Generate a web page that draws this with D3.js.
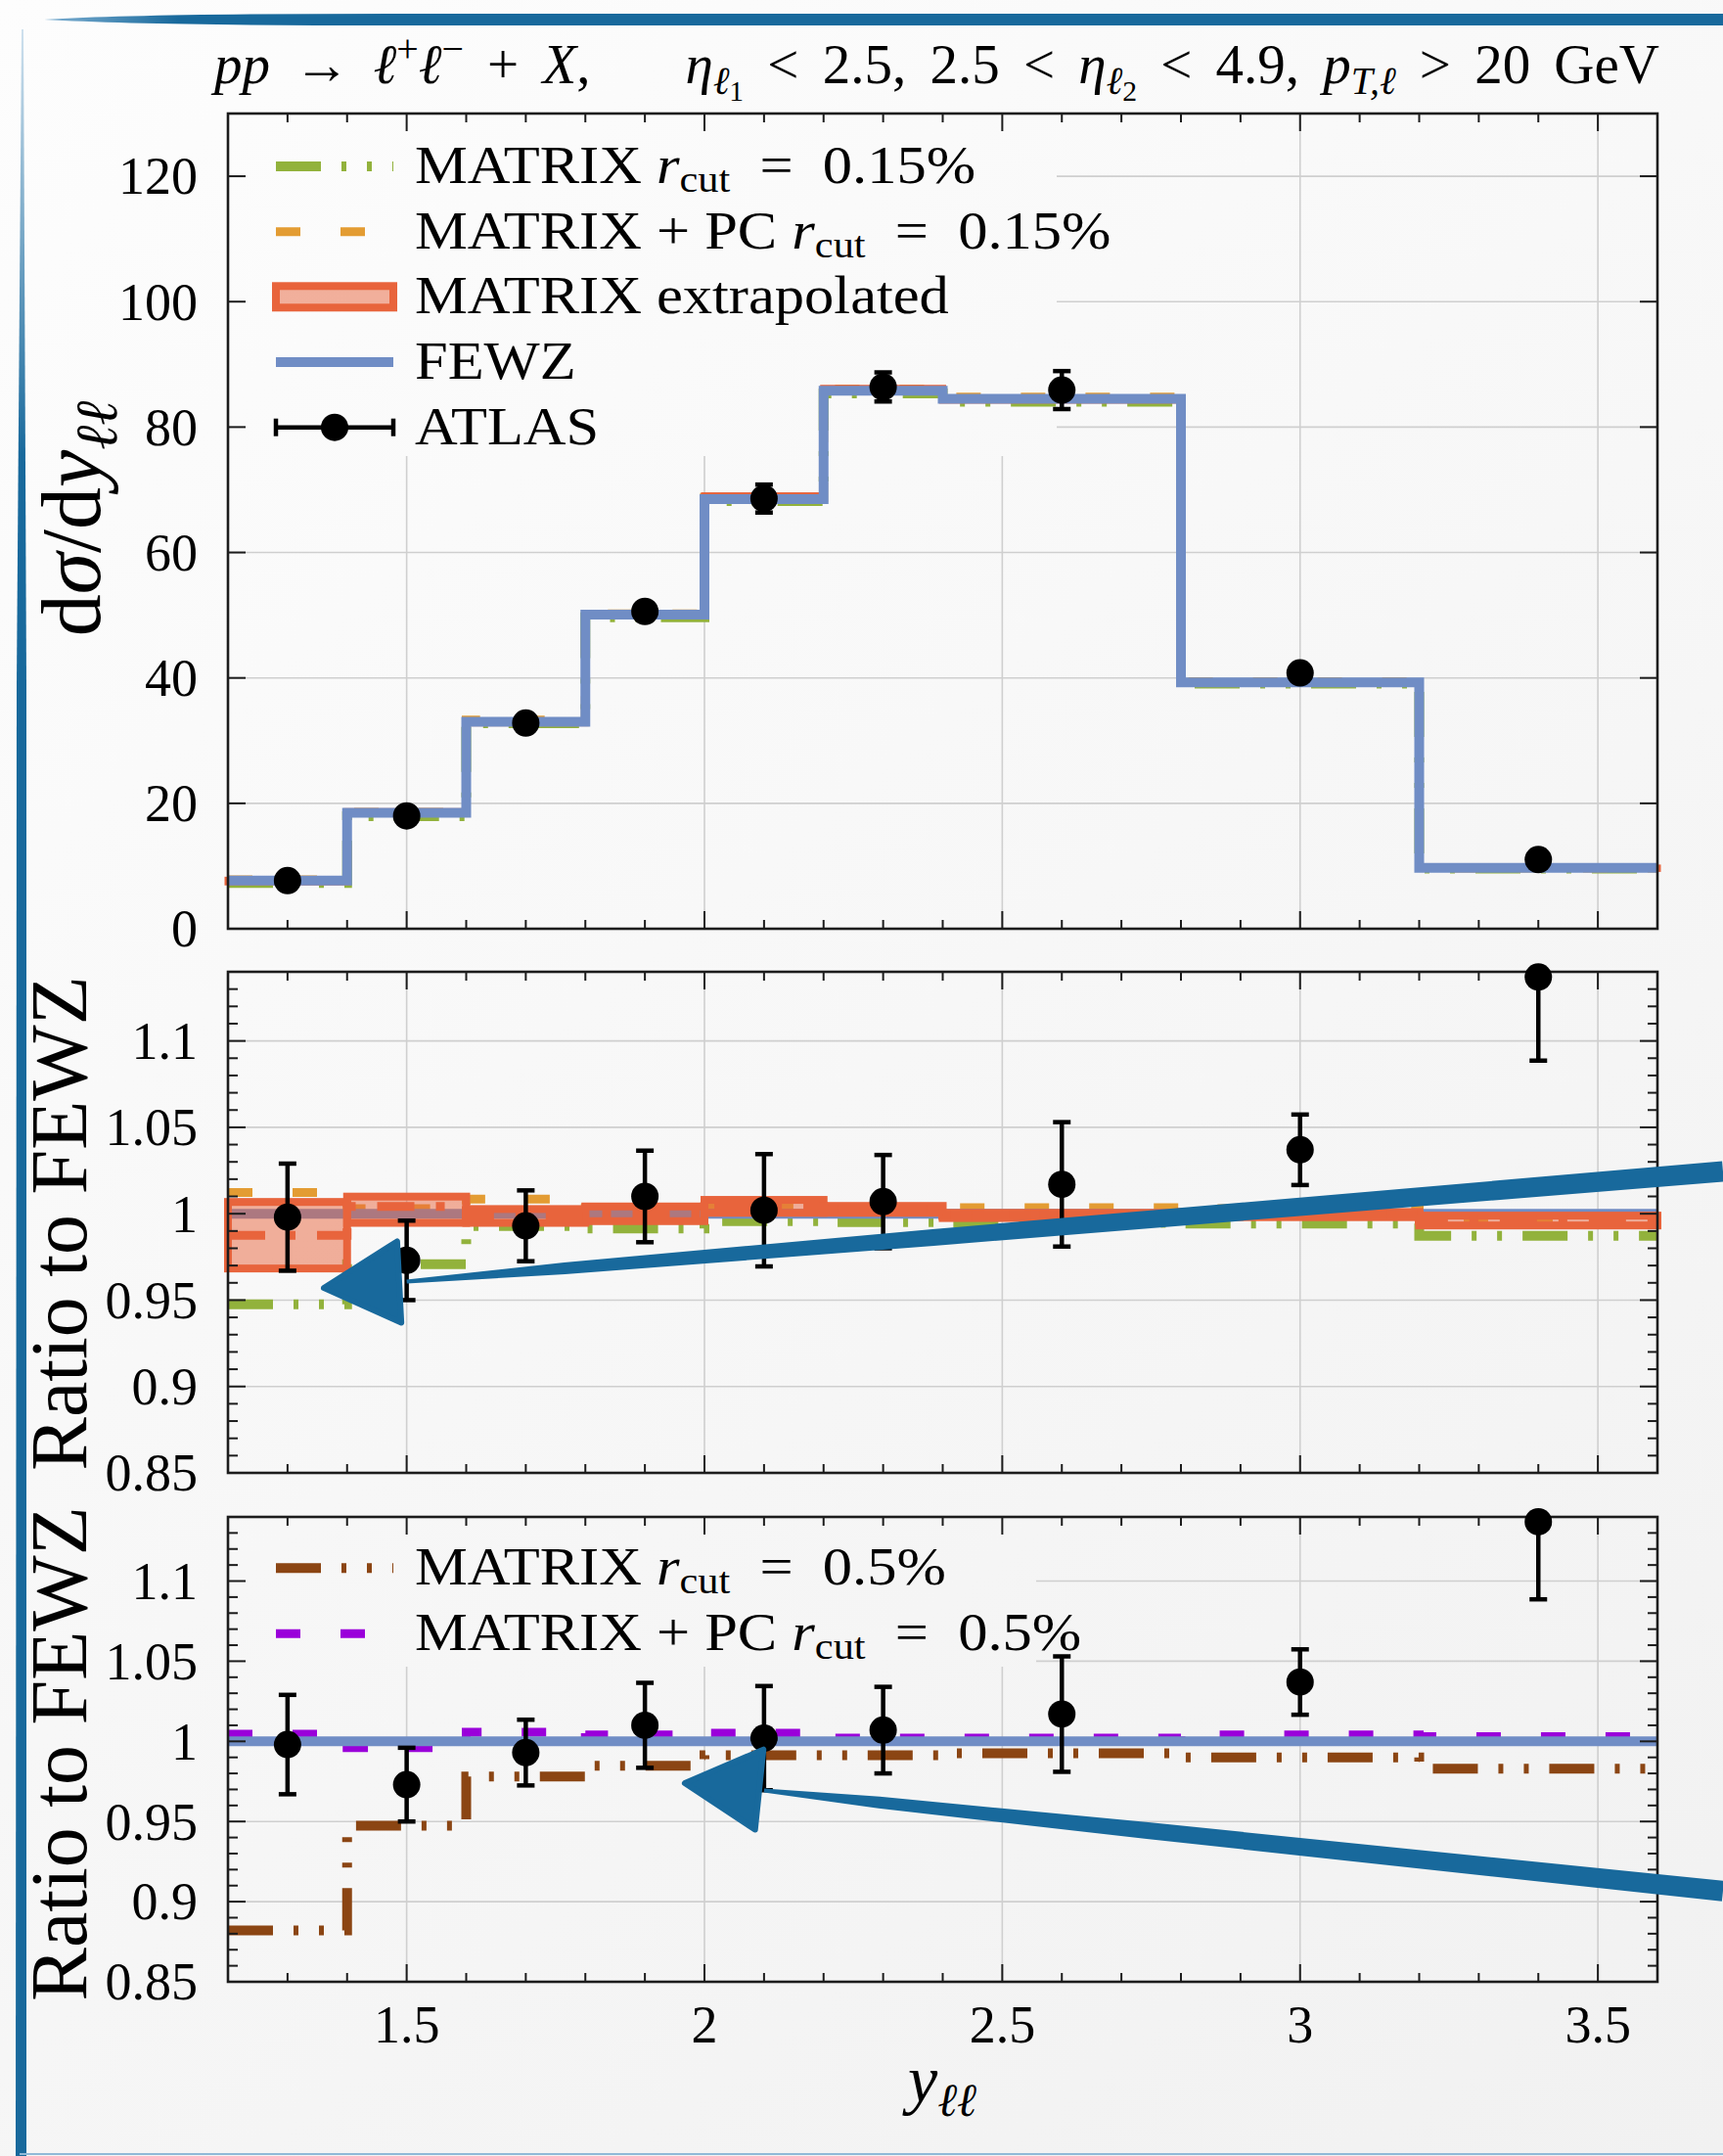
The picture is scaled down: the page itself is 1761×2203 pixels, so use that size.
<!DOCTYPE html>
<html>
<head>
<meta charset="utf-8">
<script src="https://cdn.jsdelivr.net/npm/d3@7"></script>
<style>
  html, body { margin: 0; padding: 0; background: #f6f6f6; }
  svg { display: block; }
  text { font-family: "Liberation Serif", "Times New Roman", serif; fill: #000; white-space: pre; }
</style>
</head>
<body>
<svg id="chart" width="1761" height="2203"></svg>
<script>
// ---- data ----
const binEdges = [1.2, 1.4, 1.6, 1.8, 2.0, 2.2, 2.4, 2.8, 3.2, 3.6];

// top panel, d sigma / d y_ll
const fewz        = [7.7, 18.5, 33.0, 50.1, 68.5, 85.8, 84.5, 39.3, 9.7];
const matrix015   = [7.30, 17.96, 32.77, 49.67, 68.21, 85.38, 84.05, 39.08, 9.58];
const matrixPC015 = [7.79, 18.56, 33.28, 50.20, 68.77, 86.06, 84.80, 39.42, 9.66];
const extrapLo    = [7.46, 18.40, 32.83, 49.88, 68.53, 85.84, 84.29, 39.22, 9.63];
const extrapHi    = [7.75, 18.68, 33.09, 50.31, 69.05, 86.19, 84.54, 39.34, 9.69];
const atlasX      = [1.3, 1.5, 1.7, 1.9, 2.1, 2.3, 2.6, 3.0, 3.4];
const atlasVal    = [7.68, 18.0, 32.8, 50.6, 68.6, 86.4, 85.9, 40.8, 11.03];
const atlasErr    = [0.24, 0.43, 0.68, 1.33, 2.23, 2.32, 3.03, 0.80, 0.47];

// ratio panels
const rFewz        = [1, 1, 1, 1, 1, 1, 1, 1, 1];
const rMatrix015   = [0.9476, 0.9708, 0.9929, 0.9915, 0.9957, 0.9951, 0.9947, 0.9943, 0.9872];
const rMatrixPC015 = [1.0123, 1.003, 1.0085, 1.002, 1.004, 1.003, 1.0035, 1.003, 0.996];
const rExtrapLo    = [0.9683, 0.9947, 0.9947, 0.9957, 1.0005, 1.0005, 0.9975, 0.998, 0.9932];
const rExtrapHi    = [1.0068, 1.0099, 1.0027, 1.0042, 1.008, 1.0045, 1.0005, 1.001, 0.9989];
const rExtrapMid   = [0.9875, 1.0042, 0.9987, 1.0, 1.0042, 1.0025, 0.999, 0.9995, 0.996];
const rAtlas       = [0.998, 0.973, 0.993, 1.010, 1.002, 1.007, 1.017, 1.037, 1.137];
const rAtlasErr    = [0.031, 0.023, 0.0205, 0.0265, 0.0325, 0.027, 0.036, 0.0204, 0.0484];
const rMatrix05    = [0.882, 0.9474, 0.978, 0.9847, 0.9914, 0.9914, 0.9925, 0.990, 0.983];
const rMatrixPC05  = [1.0045, 0.996, 1.0057, 1.004, 1.005, 1.002, 1.002, 1.004, 1.003];

const xTicks = [1.5, 2, 2.5, 3, 3.5];
const topTicks = [0, 20, 40, 60, 80, 100, 120];
const ratioTicks = [0.85, 0.9, 0.95, 1, 1.05, 1.1];

// hand drawn arrows, in data units of the two ratio panels
const arrowMid = { tip: [1.361, 0.957], b1: [1.484, 0.984], b2: [1.491, 0.937], s0: [1.50, 0.9607], s1: [3.71, 1.0245] };
const arrowBot = { tip: [1.967, 0.9739], b1: [2.099, 0.9949], b2: [2.085, 0.9449], s0: [2.10, 0.9694], s1: [3.71, 0.9066] };

// ---- styles ----
const C = {
  green: "#92b23c", orange: "#e39c33", red: "#e8643c", blue: "#708dc5",
  brown: "#8b4513", purple: "#9a00da", arrow: "#18699c", grid: "#cfcfcf", axis: "#1c1c1c"
};
const DASH_DDOT = "46,21,5,21,5,21";
const DASH = "25,41";
const DASH_DOT = "38,22,9,22";
const TICK_FS = 54;
const LEG_FS = 55;

const W = 1761, H = 2203;
const svg = d3.select("#chart");
const defs = svg.append("defs");
const bg = defs.append("linearGradient").attr("id", "bg").attr("gradientUnits", "userSpaceOnUse")
  .attr("x1", 0).attr("y1", 0).attr("x2", W).attr("y2", H);
bg.append("stop").attr("offset", 0).attr("stop-color", "#fdfdfd");
bg.append("stop").attr("offset", 1).attr("stop-color", "#f1f1f1");
svg.append("rect").attr("width", W).attr("height", H).attr("fill", "url(#bg)");

// decorative brush strokes of the slide
const deco = defs.append("linearGradient").attr("id", "decoTop").attr("x1", 0).attr("x2", 1);
deco.append("stop").attr("offset", 0).attr("stop-color", "#7fb0d2");
deco.append("stop").attr("offset", 0.08).attr("stop-color", C.arrow);
deco.append("stop").attr("offset", 1).attr("stop-color", C.arrow);
svg.append("path").attr("fill", "url(#decoTop)")
  .attr("d", "M45,20 Q150,14 400,14 L1761,14 L1761,26 L400,26 Q150,26 45,20 Z");
const decoL = defs.append("linearGradient").attr("id", "decoLeft").attr("x1", 0).attr("x2", 0).attr("y1", 0).attr("y2", 1);
decoL.append("stop").attr("offset", 0).attr("stop-color", "#cfe1ee");
decoL.append("stop").attr("offset", 0.2).attr("stop-color", C.arrow);
decoL.append("stop").attr("offset", 1).attr("stop-color", C.arrow);
svg.append("path").attr("fill", "url(#decoLeft)")
  .attr("d", "M22,30 L24,30 L27,700 L27,2203 L16,2203 L17,700 Z");
svg.append("line").attr("x1", 20).attr("x2", W).attr("y1", 2201).attr("y2", 2201)
  .attr("stroke", "#8fb9d8").attr("stroke-width", 2);

// ---- scales ----
const x = d3.scaleLinear().domain([1.2, 3.6]).range([233, 1694]);
const yTop = d3.scaleLinear().domain([0, 130]).range([949, 116]);
const yMid = d3.scaleLinear().domain([0.85, 1.14]).range([1505, 993]);
const yBot = d3.scaleLinear().domain([0.85, 1.14]).range([2025, 1550]);

const xMinor = d3.range(13, 36).map(d => d / 10).filter(d => !xTicks.includes(d));
const ratioMinor = d3.range(86, 114).map(d => d / 100).filter(d => Math.round(d * 100) % 5 !== 0);

const stepPts = vals => binEdges.map((e, i) => [e, vals[Math.min(i, vals.length - 1)]]);
const stepLine = ys => d3.line().x(d => x(d[0])).y(d => ys(d[1])).curve(d3.curveStepAfter);

function rich(sel, parts, fs, subShift = 0.2) {
  let cur = 0;
  parts.forEach(([t, st]) => {
    st = st || "";
    let target = 0, size = fs;
    if (st.startsWith("sup")) { target = -0.38 * fs; size = 0.7 * fs; }
    if (st.startsWith("sub")) { target = subShift * fs; size = 0.7 * fs; }
    if (st === "sub2") { target = 0.32 * fs; size = 0.52 * fs; }
    sel.append("tspan").text(t)
      .attr("font-size", size)
      .attr("font-style", (st === "i" || st === "subi") ? "italic" : "normal")
      .attr("dy", target - cur);
    cur = target;
  });
}

function grid(g, ys, major) {
  const [yb, yt] = ys.range();
  g.append("g").selectAll("line").data(xTicks).join("line")
    .attr("x1", d => x(d)).attr("x2", d => x(d)).attr("y1", yb).attr("y2", yt)
    .attr("stroke", C.grid).attr("stroke-width", 1.6);
  g.append("g").selectAll("line").data(major.filter(d => ys(d) < yb - 2 && ys(d) > yt + 2)).join("line")
    .attr("x1", x.range()[0]).attr("x2", x.range()[1]).attr("y1", d => ys(d)).attr("y2", d => ys(d))
    .attr("stroke", C.grid).attr("stroke-width", 1.6);
}

function frame(g, ys, major, minor, fmt, xLabels) {
  const [x0, x1] = x.range(), [yb, yt] = ys.range();
  const tk = g.append("g").attr("stroke", C.axis).attr("stroke-width", 2);
  const xt = [...xTicks.map(d => [d, 18]), ...xMinor.map(d => [d, 9])];
  [yb, yt].forEach((yy, k) => {
    tk.append("g").selectAll("line").data(xt).join("line")
      .attr("x1", d => x(d[0])).attr("x2", d => x(d[0]))
      .attr("y1", yy).attr("y2", d => k === 0 ? yy - d[1] : yy + d[1]);
  });
  const yt2 = [...major.map(d => [d, 18]), ...minor.map(d => [d, 10])];
  [x0, x1].forEach((xx, k) => {
    tk.append("g").selectAll("line").data(yt2).join("line")
      .attr("y1", d => ys(d[0])).attr("y2", d => ys(d[0]))
      .attr("x1", xx).attr("x2", d => k === 0 ? xx + d[1] : xx - d[1]);
  });
  g.append("rect").attr("x", x0).attr("y", yt).attr("width", x1 - x0).attr("height", yb - yt)
    .attr("fill", "none").attr("stroke", C.axis).attr("stroke-width", 2.6);
  g.append("g").selectAll("text").data(major).join("text")
    .attr("x", 202).attr("y", d => ys(d)).attr("dy", "0.34em")
    .attr("text-anchor", "end").attr("font-size", TICK_FS).text(fmt);
  if (xLabels) {
    g.append("g").selectAll("text").data(xTicks).join("text")
      .attr("x", d => x(d)).attr("y", 2087).attr("text-anchor", "middle")
      .attr("font-size", TICK_FS).text(d => String(d));
  }
}

function atlas(g, ys, vals, errs, clipId) {
  const eb = g.append("g").attr("clip-path", `url(#${clipId})`).attr("stroke", "#000").attr("stroke-width", 4.5);
  atlasX.forEach((xv, i) => {
    const cx = x(xv), lo = ys(vals[i] - errs[i]), hi = ys(vals[i] + errs[i]);
    eb.append("line").attr("x1", cx).attr("x2", cx).attr("y1", lo).attr("y2", hi);
    eb.append("line").attr("x1", cx - 9).attr("x2", cx + 9).attr("y1", lo).attr("y2", lo);
    eb.append("line").attr("x1", cx - 9).attr("x2", cx + 9).attr("y1", hi).attr("y2", hi);
  });
  g.append("g").selectAll("circle").data(atlasX).join("circle")
    .attr("cx", d => x(d)).attr("cy", (d, i) => ys(vals[i])).attr("r", 14).attr("fill", "#000");
}

function clip(id, ys) {
  const [yb, yt] = ys.range();
  defs.append("clipPath").attr("id", id).append("rect")
    .attr("x", x.range()[0]).attr("y", yt).attr("width", x.range()[1] - x.range()[0]).attr("height", yb - yt);
}
clip("cTop", yTop); clip("cMid", yMid); clip("cBot", yBot);

function drawStep(g, ys, vals, color, width, dash) {
  const p = g.append("path").datum(stepPts(vals)).attr("d", stepLine(ys))
    .attr("fill", "none").attr("stroke", color).attr("stroke-width", width);
  if (dash) p.attr("stroke-dasharray", dash);
  return p;
}

function band(g, ys, lo, hi, strokeW) {
  const bg2 = g.append("g");
  lo.forEach((l, i) => {
    bg2.append("rect")
      .attr("x", x(binEdges[i])).attr("width", x(binEdges[i + 1]) - x(binEdges[i]))
      .attr("y", ys(hi[i])).attr("height", Math.max(0.5, ys(lo[i]) - ys(hi[i])))
      .attr("fill", C.red).attr("fill-opacity", 0.5)
      .attr("stroke", C.red).attr("stroke-width", strokeW);
  });
}

function legendRow(g, y, kind, parts) {
  const x0 = 282, x1 = 402;
  if (kind.type === "line") {
    const l = g.append("line").attr("x1", x0).attr("x2", x1).attr("y1", y).attr("y2", y)
      .attr("stroke", kind.color).attr("stroke-width", kind.width);
    if (kind.dash) l.attr("stroke-dasharray", kind.dash);
  } else if (kind.type === "band") {
    g.append("rect").attr("x", x0).attr("y", y - 11).attr("width", x1 - x0).attr("height", 22)
      .attr("fill", C.red).attr("fill-opacity", 0.5).attr("stroke", C.red).attr("stroke-width", 8);
  } else {
    g.append("line").attr("x1", x0).attr("x2", x1).attr("y1", y).attr("y2", y).attr("stroke", "#000").attr("stroke-width", 4.5);
    g.append("line").attr("x1", x0).attr("x2", x0).attr("y1", y - 9).attr("y2", y + 9).attr("stroke", "#000").attr("stroke-width", 4.5);
    g.append("line").attr("x1", x1).attr("x2", x1).attr("y1", y - 9).attr("y2", y + 9).attr("stroke", "#000").attr("stroke-width", 4.5);
    g.append("circle").attr("cx", (x0 + x1) / 2).attr("cy", y).attr("r", 14).attr("fill", "#000");
  }
  // Computer Modern is wider than Times: stretch the glyphs a little
  const t = g.append("text").attr("transform", `translate(424,${y + 17}) scale(1.1,1)`).attr("font-size", LEG_FS);
  rich(t, parts, LEG_FS, 0.16);
}

// ---- top panel ----
const gTop = svg.append("g");
grid(gTop, yTop, topTicks);
gTop.append("rect").attr("x", 234).attr("y", 117).attr("width", 846).attr("height", 349).attr("fill", "url(#bg)");
drawStep(gTop, yTop, matrix015, C.green, 10, DASH_DDOT);
drawStep(gTop, yTop, matrixPC015, C.orange, 9, DASH);
band(gTop, yTop, extrapLo, extrapHi, 7);
drawStep(gTop, yTop, fewz, C.blue, 10);
frame(gTop, yTop, topTicks, [], d => String(d), false);
atlas(gTop, yTop, atlasVal, atlasErr, "cTop");

const legTop = svg.append("g");
legendRow(legTop, 170, { type: "line", color: C.green, width: 10, dash: DASH_DDOT },
  [["MATRIX "], ["r", "i"], ["cut", "sub"], ["\u2002=\u20020.15%"]]);
legendRow(legTop, 236.7, { type: "line", color: C.orange, width: 9, dash: DASH },
  [["MATRIX + PC "], ["r", "i"], ["cut", "sub"], ["\u2002=\u20020.15%"]]);
legendRow(legTop, 303.3, { type: "band" }, [["MATRIX extrapolated"]]);
legendRow(legTop, 370, { type: "line", color: C.blue, width: 10 }, [["FEWZ"]]);
legendRow(legTop, 436.7, { type: "atlas" }, [["ATLAS"]]);

// ---- middle ratio panel ----
const gMid = svg.append("g");
grid(gMid, yMid, ratioTicks);
drawStep(gMid, yMid, rMatrix015, C.green, 10, DASH_DDOT);
drawStep(gMid, yMid, rMatrixPC015, C.orange, 9, DASH);
drawStep(gMid, yMid, rFewz, C.blue, 10);
band(gMid, yMid, rExtrapLo, rExtrapHi, 8);
drawStep(gMid, yMid, rExtrapMid, C.red, 9, DASH_DOT).attr("clip-path", "url(#cMid)");
const fmtR = d => String(+d.toFixed(2));
frame(gMid, yMid, ratioTicks, ratioMinor, fmtR, false);
atlas(gMid, yMid, rAtlas, rAtlasErr, "cMid");

// ---- bottom ratio panel ----
const gBot = svg.append("g");
grid(gBot, yBot, ratioTicks);
gBot.append("rect").attr("x", 234).attr("y", 1551).attr("width", 825).attr("height", 152).attr("fill", "url(#bg)");
drawStep(gBot, yBot, rMatrix05, C.brown, 10, DASH_DDOT);
drawStep(gBot, yBot, rMatrixPC05, C.purple, 9, DASH);
drawStep(gBot, yBot, rFewz, C.blue, 10);
frame(gBot, yBot, ratioTicks, ratioMinor, fmtR, true);
atlas(gBot, yBot, rAtlas, rAtlasErr, "cBot");

const legBot = svg.append("g");
legendRow(legBot, 1602.3, { type: "line", color: C.brown, width: 10, dash: DASH_DDOT },
  [["MATRIX "], ["r", "i"], ["cut", "sub"], ["\u2002=\u20020.5%"]]);
legendRow(legBot, 1669.3, { type: "line", color: C.purple, width: 9, dash: DASH },
  [["MATRIX + PC "], ["r", "i"], ["cut", "sub"], ["\u2002=\u20020.5%"]]);

// ---- axis titles and header ----
const yl = svg.append("text").attr("transform", "translate(102,530) rotate(-90)")
  .attr("text-anchor", "middle").attr("font-size", 86);
rich(yl, [["d"], ["σ", "i"], ["/d"], ["y", "i"], ["ℓℓ", "subi"]], 86);
[1250, 1792].forEach(cy => {
  svg.append("text").attr("transform", `translate(88,${cy}) rotate(-90)`)
    .attr("text-anchor", "middle").attr("font-size", 82).text("Ratio to FEWZ");
});
const xl = svg.append("text").attr("x", 963).attr("y", 2148).attr("text-anchor", "middle").attr("font-size", 68);
rich(xl, [["y", "i"], ["ℓℓ", "subi"]], 68);

const TITLE_FS = 57;
const title = svg.append("text").attr("x", 1696).attr("y", 85).attr("text-anchor", "end").attr("font-size", TITLE_FS);
rich(title, [
  ["pp", "i"], [" → "], ["ℓ", "i"], ["+", "sup"], ["ℓ", "i"], ["−", "sup"], [" + "], ["X", "i"], [",    "],
  ["η", "i"], ["ℓ", "subi"], ["1", "sub2"], [" < 2.5, 2.5 < "], ["η", "i"], ["ℓ", "subi"], ["2", "sub2"],
  [" < 4.9, "], ["p", "i"], ["T,ℓ", "subi"], [" > 20 GeV"]
], TITLE_FS);
// widen the spaces a little so the header spans the same width as the TeX one
{
  const wNow = title.node().getComputedTextLength();
  const nSp = (title.text().match(/ /g) || []).length;
  if (wNow < 1477 && nSp) title.attr("word-spacing", Math.min(10, (1477 - wNow) / nSp));
}

// ---- arrows ----
function drawArrow(ys, a) {
  const P = d => [x(d[0]), ys(d[1])];
  const [s0x, s0y] = P(a.s0), [s1x, s1y] = P(a.s1);
  const dx = s1x - s0x, dy = s1y - s0y, len = Math.hypot(dx, dy);
  const nx = -dy / len, ny = dx / len;
  const prof = [[0, 4], [0.12, 12], [0.4, 17], [1, 21]];
  const top = prof.map(([f, w]) => [s0x + dx * f + nx * w / 2, s0y + dy * f + ny * w / 2]);
  const bot = prof.map(([f, w]) => [s0x + dx * f - nx * w / 2, s0y + dy * f - ny * w / 2]).reverse();
  svg.append("path").attr("d", "M" + top.concat(bot).map(p => p.join(",")).join("L") + "Z")
    .attr("fill", C.arrow);
  svg.append("path").attr("d", "M" + [P(a.tip), P(a.b1), P(a.b2)].map(p => p.join(",")).join("L") + "Z")
    .attr("fill", C.arrow).attr("stroke", C.arrow).attr("stroke-width", 6).attr("stroke-linejoin", "round");
}
drawArrow(yMid, arrowMid);
drawArrow(yBot, arrowBot);
</script>
</body>
</html>
